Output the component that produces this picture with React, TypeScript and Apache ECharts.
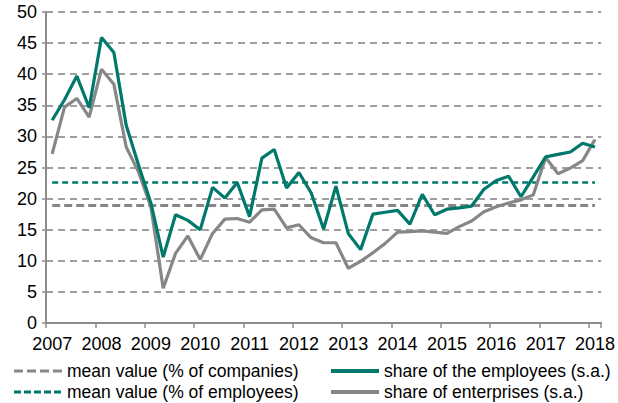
import React, { useEffect, useRef } from "react";
import * as echarts from "echarts";

const quarters: string[] = [];
const years = ["2007", "2008", "2009", "2010", "2011", "2012", "2013", "2014", "2015", "2016", "2017", "2018"];
years.forEach((y) => {
  ["Q1", "Q2", "Q3", "Q4"].forEach((q) => quarters.push(y + " " + q));
});
const categories = quarters.slice(0, 45); // 2007 Q1 .. 2018 Q1

const shareEmployees = [
  32.6, 35.9, 39.7, 34.6, 45.9, 43.5, 31.8, 25.4, 19.3, 10.6,
  17.4, 16.5, 15.0, 21.8, 20.1, 22.6, 17.1, 26.5, 27.9, 21.7,
  24.2, 20.9, 15.1, 22.0, 14.4, 11.8, 17.5, 17.8, 18.1, 15.9,
  20.7, 17.4, 18.3, 18.5, 18.8, 21.5, 22.9, 23.6, 20.3, 23.5,
  26.7, 27.1, 27.5, 28.9, 28.3,
];

const shareEnterprises = [
  27.2, 34.7, 36.1, 33.1, 40.8, 38.4, 28.3, 24.3, 18.7, 5.6,
  11.2, 14.0, 10.2, 14.4, 16.7, 16.8, 16.2, 18.2, 18.3, 15.3,
  15.8, 13.7, 12.9, 12.9, 8.8, 9.9, 11.3, 12.8, 14.6, 14.7,
  14.8, 14.6, 14.4, 15.5, 16.4, 17.9, 18.7, 19.3, 19.8, 20.6,
  26.6, 24.0, 24.9, 26.1, 29.5,
];

const meanCompanies = 18.9;
const meanEmployees = 22.6;

const seriesNames = {
  meanCompanies: "mean value (% of companies)",
  meanEmployees: "mean value (% of employees)",
  employees: "share of the employees (s.a.)",
  enterprises: "share of enterprises (s.a.)",
};

const GREEN = "#00796c";
const GRAY = "#878787";
const FONT = "'Liberation Sans', Arial, sans-serif";

function legendItem(x: number, y: number, text: string, color: string, width: number, dash: number[] | null) {
  return {
    type: "group",
    children: [
      {
        type: "line",
        shape: { x1: x, y1: y, x2: x + 48, y2: y },
        style: { stroke: color, lineWidth: dash ? 3 : 4, lineDash: dash || undefined },
      },
      {
        type: "text",
        x: x + 53,
        y: y,
        style: {
          text,
          fontSize: 17.5,
          fontFamily: FONT,
          fill: "#000",
          verticalAlign: "middle",
          align: "left",
        },
      },
    ],
  };
}

export default function App() {
  const ref = useRef<HTMLDivElement>(null);

  useEffect(() => {
    if (!ref.current) return;
    const chart = echarts.init(ref.current, undefined, { renderer: "svg" });
    chart.setOption({
      animation: false,
      textStyle: { fontFamily: FONT },
      grid: { left: 46, right: 15, top: 12, bottom: 80, containLabel: false },
      graphic: [
        legendItem(14, 371, seriesNames.meanCompanies, GRAY, 48, [9, 4]),
        legendItem(14, 392, seriesNames.meanEmployees, GREEN, 48, [7, 3]),
        legendItem(331, 371, seriesNames.employees, GREEN, 48, null),
        legendItem(331, 392, seriesNames.enterprises, GRAY, 48, null),
      ],
      xAxis: {
        type: "category",
        data: categories,
        boundaryGap: true,
        axisLine: { show: true, lineStyle: { color: "#8c8c8c", width: 2 } },
        axisTick: { show: true, interval: 3, length: 5, lineStyle: { color: "#8c8c8c", width: 1.5 } },
        axisLabel: {
          interval: 3,
          margin: 12,
          fontSize: 18,
          color: "#000",
          fontFamily: FONT,
          formatter: (v: string) => v.split(" ")[0],
        },
        splitLine: { show: false },
      },
      yAxis: {
        type: "value",
        min: 0,
        max: 50,
        interval: 5,
        axisLine: { show: true, lineStyle: { color: "#8c8c8c", width: 2 } },
        axisTick: { show: true, length: 4, lineStyle: { color: "#8c8c8c", width: 1.5 } },
        axisLabel: { margin: 9, fontSize: 18, color: "#000", fontFamily: FONT },
        splitLine: {
          show: true,
          lineStyle: { color: "#808080", width: 1.5, type: [7, 5] },
        },
      },
      series: [
        {
          name: seriesNames.meanCompanies,
          type: "line",
          data: categories.map(() => meanCompanies),
          symbol: "none",
          lineStyle: { color: GRAY, width: 3, type: [8, 4] },
          itemStyle: { color: GRAY },
          z: 2,
        },
        {
          name: seriesNames.meanEmployees,
          type: "line",
          data: categories.map(() => meanEmployees),
          symbol: "none",
          lineStyle: { color: GREEN, width: 2.5, type: [6, 4] },
          itemStyle: { color: GREEN },
          z: 2,
        },
        {
          name: seriesNames.enterprises,
          type: "line",
          data: shareEnterprises,
          symbol: "none",
          lineStyle: { color: GRAY, width: 3.2 },
          itemStyle: { color: GRAY },
          z: 3,
        },
        {
          name: seriesNames.employees,
          type: "line",
          data: shareEmployees,
          symbol: "none",
          lineStyle: { color: GREEN, width: 3.2 },
          itemStyle: { color: GREEN },
          z: 4,
        },
      ],
    });
    return () => chart.dispose();
  }, []);

  return <div ref={ref} style={{ width: 618, height: 403, position: "absolute", left: 0, top: 0 }} />;
}
